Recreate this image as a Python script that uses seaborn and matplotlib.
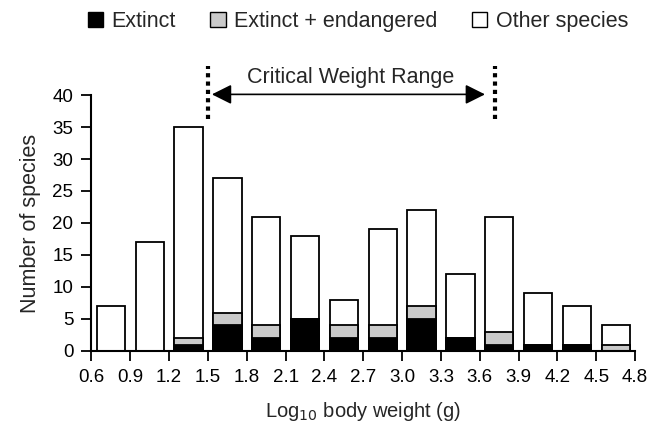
import numpy as np
import pandas as pd
import seaborn as sns
import matplotlib.pyplot as plt
from matplotlib.patches import Patch

# bin centres (log10 g) and counts
bin_centres = [0.75, 1.05, 1.35, 1.65, 1.95, 2.25, 2.55, 2.85, 3.15, 3.45, 3.75, 4.05, 4.35, 4.65]
other_total = [7, 17, 35, 27, 21, 18, 8, 19, 22, 12, 21, 9, 7, 4]
ext_endangered = [0, 0, 2, 6, 4, 5, 4, 4, 7, 2, 3, 1, 1, 1]
extinct = [0, 0, 1, 4, 2, 5, 2, 2, 5, 2, 1, 1, 1, 0]
tick_labels = ["0.6", "0.9", "1.2", "1.5", "1.8", "2.1", "2.4", "2.7",
               "3.0", "3.3", "3.6", "3.9", "4.2", "4.5", "4.8"]

df = pd.DataFrame({"bin": bin_centres, "total": other_total,
                   "ext_end": ext_endangered, "extinct": extinct})

sns.set_style("ticks")
plt.rcParams["font.family"] = ["Liberation Sans", "DejaVu Sans"]

fig = plt.figure(figsize=(6.63, 4.28), dpi=100)
ax = fig.add_axes([0.138, 0.180, 0.820, 0.598])

kw = dict(native_scale=True, width=0.73, edgecolor="black", linewidth=1.3, ax=ax)
sns.barplot(data=df, x="bin", y="total", color="white", **kw)
sns.barplot(data=df, x="bin", y="ext_end", color="#cacaca", **kw)
sns.barplot(data=df, x="bin", y="extinct", color="black", **kw)

ax.set_xlim(0.6, 4.8)
ax.set_ylim(0, 40)
ax.set_xticks(np.linspace(0.6, 4.8, 15))
ax.set_xticklabels(tick_labels)
ax.set_yticks(range(0, 41, 5))
ax.tick_params(axis="both", labelsize=13.5, length=7, width=1.3, pad=6, colors="black")
for s in ["left", "bottom"]:
    ax.spines[s].set_linewidth(1.5)
    ax.spines[s].set_color("black")
sns.despine(ax=ax)

ax.set_xlabel("Log$_{10}$ body weight (g)", fontsize=14.5, labelpad=10)
ax.set_ylabel("Number of species", fontsize=15.5, labelpad=8)

# critical weight range marker
for xv in [1.5, 3.72]:
    ax.plot([xv, xv], [36.2, 44.5], ls=(0, (1, 1)), color="black", lw=3,
            clip_on=False)
ax.annotate("", xy=(1.53, 40.1), xytext=(3.64, 40.1),
            arrowprops=dict(arrowstyle="<|-|>", color="black", lw=1.2,
                            mutation_scale=30, shrinkA=0, shrinkB=0),
            annotation_clip=False)
ax.text(2.6, 42.7, "Critical Weight Range", fontsize=15.5, ha="center", va="center")

handles = [Patch(facecolor="black", edgecolor="black", label="Extinct"),
           Patch(facecolor="#cacaca", edgecolor="black", label="Extinct + endangered"),
           Patch(facecolor="white", edgecolor="black", label="Other species")]
fig.legend(handles=handles, loc="center", bbox_to_anchor=(0.54, 0.95), ncol=3,
           frameon=False, fontsize=15.5, handlelength=0.7, handleheight=0.7,
           handletextpad=0.4, columnspacing=1.6)

fig.savefig("out.png", dpi=100)
